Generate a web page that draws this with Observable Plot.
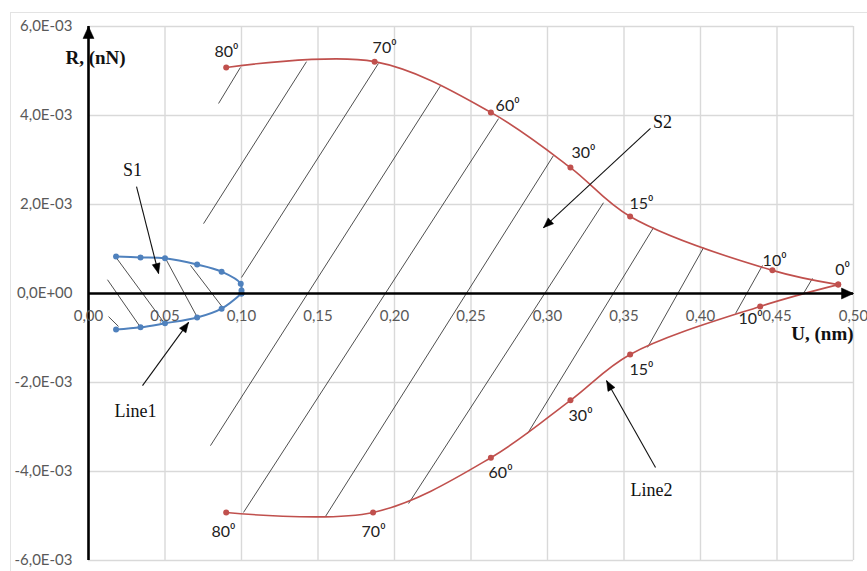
<!DOCTYPE html>
<html>
<head>
<meta charset="utf-8">
<script src="https://cdn.jsdelivr.net/npm/d3@7"></script>
<script src="https://cdn.jsdelivr.net/npm/@observablehq/plot@0.6"></script>
<style>
  html, body { margin: 0; padding: 0; background: #fff; }
  #wrap { position: relative; width: 867px; height: 571px; overflow: hidden; }
  #frame { position: absolute; left: 10px; top: 12px; width: 870px; height: 580px;
           border: 1px solid #e3e3e3; box-sizing: border-box; pointer-events: none; }
</style>
</head>
<body>
<div id="wrap"><div id="chart"></div><div id="frame"></div></div>
<script>
// ---- tick values ----
const xTicks = [0, 0.05, 0.10, 0.15, 0.20, 0.25, 0.30, 0.35, 0.40, 0.45, 0.50];
const yTicks = [-6e-3, -4e-3, -2e-3, 0, 2e-3, 4e-3, 6e-3];

// ---- Line2 (red) : angles ----
const angles = [80, 70, 60, 30, 15, 10, 0];
const upperU = [0.090, 0.187, 0.263, 0.315, 0.354, 0.447, 0.490];
const upperR = [5.08e-3, 5.21e-3, 4.07e-3, 2.83e-3, 1.73e-3, 0.52e-3, 0.20e-3];
const lowerU = [0.090, 0.186, 0.263, 0.315, 0.354, 0.439, 0.490];
const lowerR = [-4.92e-3, -4.92e-3, -3.69e-3, -2.40e-3, -1.37e-3, -0.29e-3, 0.20e-3];

// ---- Line1 (blue) ----
const blueUpU = [0.018, 0.034, 0.050, 0.071, 0.087, 0.0995, 0.100, 0.100];
const blueUpR = [0.83e-3, 0.81e-3, 0.79e-3, 0.65e-3, 0.49e-3, 0.22e-3, 0.07e-3, 0];
const blueLoU = [0.018, 0.034, 0.050, 0.071, 0.087, 0.100];
const blueLoR = [-0.81e-3, -0.76e-3, -0.67e-3, -0.54e-3, -0.34e-3, 0];

// ---- angle label positions ----
const upLabU = [0.0902, 0.1935, 0.2739, 0.3235, 0.3614, 0.4484, 0.4928];
const upLabR = [5.42e-3, 5.53e-3, 4.22e-3, 3.15e-3, 2.02e-3, 0.74e-3, 0.52e-3];
const loLabU = [0.0882, 0.1863, 0.2693, 0.3216, 0.3614, 0.4327, null];
const loLabR = [-5.35e-3, -5.35e-3, -4.04e-3, -2.76e-3, -1.71e-3, -0.58e-3, null];

// ---- hatching S2 ----
const h2U1 = [0.0850, 0.0752, 0.1000, 0.0797, 0.1013, 0.1549, 0.2092, 0.2869, 0.3654, 0.4229, 0.4673];
const h2R1 = [4.27e-3, 1.57e-3, 0.36e-3, -3.42e-3, -4.92e-3, -5.01e-3, -4.72e-3, -3.15e-3, -1.21e-3, -0.45e-3, 0.0];
const h2U2 = [0.0993, 0.1425, 0.1895, 0.2301, 0.2680, 0.3039, 0.3366, 0.3693, 0.4020, 0.4405, 0.4732];
const h2R2 = [5.08e-3, 5.21e-3, 5.17e-3, 4.67e-3, 3.93e-3, 3.10e-3, 2.04e-3, 1.48e-3, 1.03e-3, 0.63e-3, 0.34e-3];
// ---- hatching S1 ----
const h1U1 = [0.0124, 0.0131, 0.0176, 0.0503, 0.0667];
const h1R1 = [0.31e-3, -0.52e-3, 0.83e-3, 0.79e-3, 0.63e-3];
const h1U2 = [0.0340, 0.0196, 0.0497, 0.0712, 0.0876];
const h1R2 = [-0.76e-3, -0.74e-3, -0.67e-3, -0.54e-3, -0.31e-3];

// ---- annotations ----
const annoText = ["S1", "Line1", "S2", "Line2"];
const annoU = [0.0288, 0.0307, 0.3752, 0.3680];
const annoR = [2.76e-3, -2.65e-3, 3.84e-3, -4.43e-3];
const arrU1 = [0.0314, 0.0353, 0.3673, 0.3706];
const arrR1 = [2.40e-3, -2.07e-3, 3.71e-3, -3.91e-3];
const arrU2 = [0.0458, 0.0654, 0.2974, 0.3386];
const arrR2 = [0.45e-3, -0.65e-3, 1.48e-3, -1.96e-3];

const axisTitles = ["R, (nN)", "U, (nm)"];
const axisTitleU = [0.0046, 0.4797];
const axisTitleR = [5.30e-3, -0.90e-3];

// ---- layout ----
const W = 867, H = 571, mL = 88, mR = 14, mT = 26, mB = 11;
const xDom = [0, 0.5], yDom = [-6e-3, 6e-3];
const sx = d3.scaleLinear(xDom, [mL, W - mR]);
const sy = d3.scaleLinear(yDom, [H - mB, mT]);

function head(id, x1, y1, x2, y2, len, wid) {
  const px1 = sx(x1), py1 = sy(y1), px2 = sx(x2), py2 = sy(y2);
  const dx = px2 - px1, dy = py2 - py1, L = Math.hypot(dx, dy);
  const ux = dx / L, uy = dy / L, nx = -uy, ny = ux;
  const bx = px2 - ux * len, by = py2 - uy * len;
  const pts = [[px2, py2], [bx + nx * wid / 2, by + ny * wid / 2], [bx - nx * wid / 2, by - ny * wid / 2], [px2, py2]];
  return pts.map(([a, b]) => ({id, x: sx.invert(a), y: sy.invert(b)}));
}

const fmtY = d => {
  if (d === 0) return "0,0E+00";
  const e = Math.floor(Math.log10(Math.abs(d)) + 1e-9);
  const m = d / Math.pow(10, e);
  return m.toFixed(1).replace(".", ",") + "E" + (e < 0 ? "-" : "+") + String(Math.abs(e)).padStart(2, "0");
};
const fmtX = d => d.toFixed(2).replace(".", ",");

const upper = angles.map((a, i) => ({a, u: upperU[i], r: upperR[i], s: "up"}));
const lower = angles.map((a, i) => ({a, u: lowerU[i], r: lowerR[i], s: "lo"}));
const red = upper.concat(lower);
const blue = blueUpU.map((u, i) => ({u, r: blueUpR[i], s: "up"}))
  .concat(blueLoU.map((u, i) => ({u, r: blueLoR[i], s: "lo"})));
const angLabels = angles.map((a, i) => ({t: a + "\u2070", u: upLabU[i], r: upLabR[i]}))
  .concat(angles.map((a, i) => ({t: a + "\u2070", u: loLabU[i], r: loLabR[i]})).filter(d => d.u != null));
const hatch = h2U1.map((u, i) => ({u1: u, r1: h2R1[i], u2: h2U2[i], r2: h2R2[i]}))
  .concat(h1U1.map((u, i) => ({u1: u, r1: h1R1[i], u2: h1U2[i], r2: h1R2[i]})));
const annos = annoText.map((t, i) => ({t, u: annoU[i], r: annoR[i]}));
const arrows = arrU1.map((u, i) => ({u1: u, r1: arrR1[i], u2: arrU2[i], r2: arrR2[i]}));
const heads = arrows.flatMap((d, i) => head("a" + i, d.u1, d.r1, d.u2, d.r2, 10, 8))
  .concat(head("ya", 0, 0, 0, yDom[1], 12, 11))
  .concat(head("xa", 0, 0, xDom[1], 0, 12, 11));
const titles = axisTitles.map((t, i) => ({t, u: axisTitleU[i], r: axisTitleR[i]}));

const redC = "#c0504d", blueC = "#4f81bd";
const tickFont = "Lato, 'Open Sans', sans-serif";
const serif = "'Liberation Serif', 'DejaVu Serif', serif";

const plot = Plot.plot({
  width: W, height: H,
  marginLeft: mL, marginRight: mR, marginTop: mT, marginBottom: mB,
  x: {domain: xDom, axis: null},
  y: {domain: yDom, axis: null},
  style: {background: "transparent"},
  marks: [
    Plot.ruleX(xTicks.filter(d => d > 0), {stroke: "#d9d9d9", strokeWidth: 1.4}),
    Plot.ruleY(yTicks.filter(d => d !== 0), {stroke: "#d9d9d9", strokeWidth: 1.4}),
    Plot.link(hatch, {x1: "u1", y1: "r1", x2: "u2", y2: "r2", stroke: "#222", strokeWidth: 0.8}),
    Plot.line(red, {x: "u", y: "r", z: "s", stroke: redC, strokeWidth: 1.6, curve: "catmull-rom"}),
    Plot.dot(red, {x: "u", y: "r", r: 3, fill: redC}),
    Plot.line(blue, {x: "u", y: "r", z: "s", stroke: blueC, strokeWidth: 2, curve: "catmull-rom"}),
    Plot.dot(blue, {x: "u", y: "r", r: 3, fill: blueC}),
    Plot.ruleX([0], {y1: yDom[0], y2: yDom[1], stroke: "#000", strokeWidth: 2.6}),
    Plot.ruleY([0], {x1: 0, x2: xDom[1], stroke: "#000", strokeWidth: 2.6}),
    Plot.link(arrows, {x1: "u1", y1: "r1", x2: "u2", y2: "r2", stroke: "#111", strokeWidth: 1.1}),
    Plot.line(heads, {x: "x", y: "y", z: "id", fill: "#000", stroke: "#000", strokeWidth: 0.5, curve: "linear"}),
    Plot.text(yTicks, {x: 0, y: d => d, text: fmtY, dx: -16, textAnchor: "end", fill: "#595959", fontSize: 15, fontFamily: tickFont}),
    Plot.text(xTicks, {x: d => d, y: 0, text: fmtX, dy: 23, textAnchor: "middle", fill: "#595959", fontSize: 15, fontFamily: tickFont}),
    Plot.text(angLabels, {x: "u", y: "r", text: "t", fill: "#222", fontSize: 16, fontFamily: tickFont}),
    Plot.text(annos, {x: "u", y: "r", text: "t", fill: "#111", fontSize: 18, fontFamily: serif}),
    Plot.text(titles, {x: "u", y: "r", text: "t", fill: "#111", fontSize: 19, fontWeight: "bold", fontFamily: serif,
      textAnchor: d => d.t.startsWith("R") ? "start" : "middle"})
  ]
});
document.getElementById("chart").appendChild(plot);
</script>
</body>
</html>
